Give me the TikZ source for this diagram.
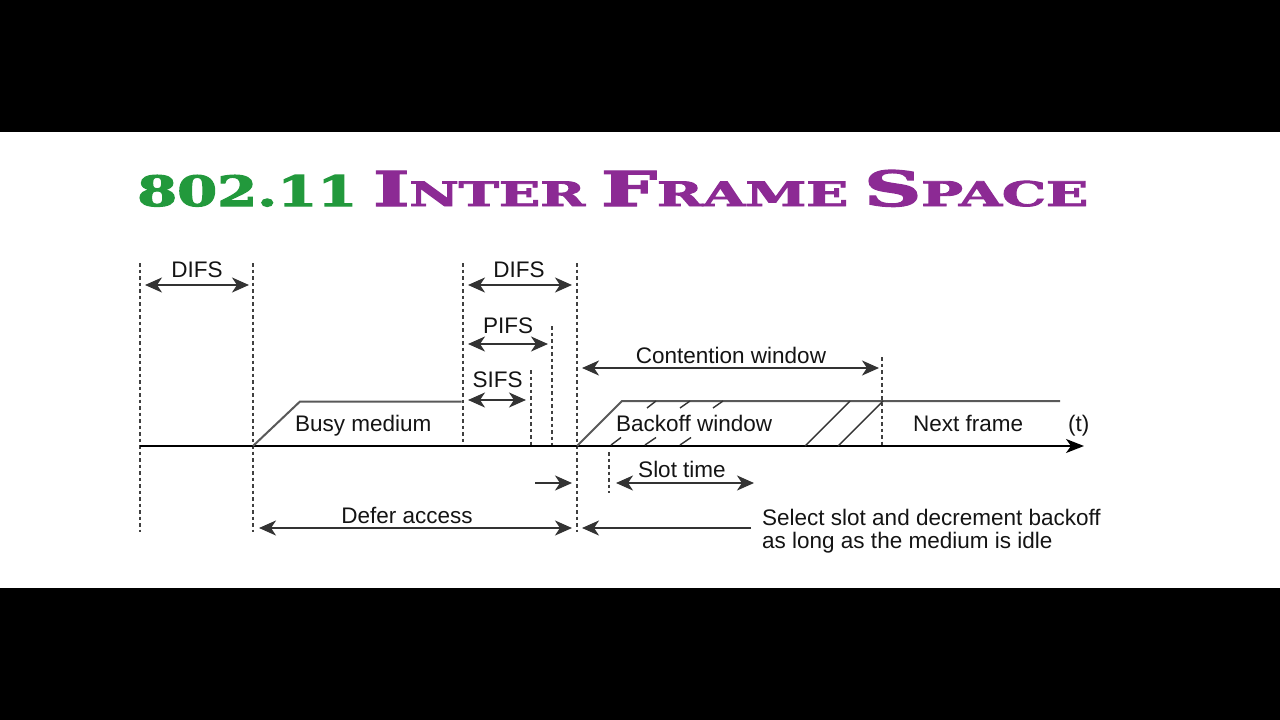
\documentclass[tikz,border=0pt]{standalone}
\usepackage{fontspec}
\setmainfont{Liberation Sans}
\newfontfamily\titlefont[BoldFeatures={FakeBold=2.5}]{DejaVu Serif}
\usetikzlibrary{arrows.meta}
\definecolor{tgreen}{HTML}{22993C}
\definecolor{tpurple}{HTML}{8C2A94}
\definecolor{linegray}{HTML}{333333}
\begin{document}
\begin{tikzpicture}[x=1pt,y=-1pt,
  tip/.tip={Stealth[length=17pt,width=15pt,inset=5pt]},
  lbl/.style={font=\fontsize{22.5}{27}\selectfont, text=black!92, inner sep=0pt, anchor=base},
  lblw/.style={lbl, anchor=base west},
  dimarrow/.style={tip-tip, line width=2.2pt, draw=linegray},
  onearrow/.style={-tip, line width=2.2pt, draw=linegray},
  guide/.style={draw=black!75, line width=1.1pt, dash pattern=on 3.5pt off 3pt},
  mediumline/.style={draw=black!65, line width=2pt},
  timeaxis/.style={draw=black, line width=1.6pt, -{Stealth[length=18pt,width=14pt,inset=5pt]}},
  hatch/.style={draw=black!80, line width=1.4pt},
  ttl/.style={anchor=base west, inner sep=0pt}]

\useasboundingbox (0,0) rectangle (1280,720);
\fill[white] (0,0) rectangle (1280,720);
\fill[black] (0,0) rectangle (1280,132);
\fill[black] (0,588) rectangle (1280,720);

% title
\node[ttl, text=tgreen] (t1) at (137,206) {\resizebox{220pt}{31pt}{\titlefont\bfseries 802.11}};
\node[ttl, text=tpurple] (t2) at (373,206) {\resizebox{212pt}{35pt}{\titlefont\bfseries{\fontsize{40}{40}\selectfont I}{\fontsize{28}{28}\selectfont NTER}}};
\node[ttl, text=tpurple] (t3) at (601,206) {\resizebox{247pt}{35pt}{\titlefont\bfseries{\fontsize{40}{40}\selectfont F}{\fontsize{28}{28}\selectfont RAME}}};
\node[ttl, text=tpurple] (t4) at (864,206) {\resizebox{224pt}{36pt}{\titlefont\bfseries{\fontsize{40}{40}\selectfont S}{\fontsize{28}{28}\selectfont PACE}}};

% guide lines
\coordinate (g1t) at (140,263); \coordinate (g1b) at (140,532);
\coordinate (g2t) at (253,263); \coordinate (g2b) at (253,532);
\coordinate (g3t) at (463,263); \coordinate (g3b) at (463,443);
\coordinate (g4t) at (577,263); \coordinate (g4b) at (577,532);
\coordinate (g5t) at (552,326); \coordinate (g5b) at (552,446);
\coordinate (g6t) at (531,370); \coordinate (g6b) at (531,446);
\coordinate (g7t) at (609,452); \coordinate (g7b) at (609,493);
\coordinate (g8t) at (882,357); \coordinate (g8b) at (882,446);
\foreach \g in {g1,g2,g3,g4,g5,g6,g7,g8} \draw[guide] (\g t) -- (\g b);

% time axis
\coordinate (ax0) at (140,446);
\coordinate (ax1) at (1084,446);
\draw[timeaxis] (ax0) -- (ax1);

% busy medium
\coordinate (bm0) at (253,446);
\coordinate (bm1) at (300,401.5);
\coordinate (bm2) at (461.5,401.5);
\draw[mediumline] (bm0) -- (bm1) -- (bm2);

% backoff / next frame
\coordinate (bo0) at (577,446);
\coordinate (bo1) at (622,401);
\coordinate (bo2) at (1060,401);
\draw[mediumline] (bo0) -- (bo1) -- (bo2);

% hatches
\foreach \xa/\ya/\xb/\yb in {611/445/621/437.5, 645/445/656/437.5, 680/445/691/437.5,
                             647/408/656/401, 680/408/690/401, 713/408/723/401,
                             805/446/850/401, 838/446/883/401}
  \draw[hatch] (\xa,\ya) -- (\xb,\yb);

% labels in the frame area
\node[lblw] (busy) at (295,431) {Busy medium};
\node[lblw] (backoff) at (616,431.5) {Backoff window};
\node[lblw] (next) at (913,431.5) {Next frame};
\node[lblw] (tlab) at (1068,431.5) {(t)};

% DIFS left
\coordinate (d1a) at (145,285); \coordinate (d1b) at (249,285);
\draw[dimarrow] (d1a) -- (d1b);
\node[lbl] (difs1) at (197,277) {DIFS};

% DIFS middle
\coordinate (d2a) at (468,285); \coordinate (d2b) at (572,285);
\draw[dimarrow] (d2a) -- (d2b);
\node[lbl] (difs2) at (519,277) {DIFS};

% PIFS
\coordinate (pa) at (468,344); \coordinate (pb) at (548,344);
\draw[dimarrow] (pa) -- (pb);
\node[lbl] (pifs) at (508,333) {PIFS};

% SIFS
\coordinate (sa) at (468,400); \coordinate (sb) at (526,400);
\draw[dimarrow] (sa) -- (sb);
\node[lbl] (sifs) at (497.5,387) {SIFS};

% contention window
\coordinate (ca) at (582,368); \coordinate (cb) at (879,368);
\draw[dimarrow] (ca) -- (cb);
\node[lbl] (cont) at (731,363) {Contention window};

% slot time
\coordinate (sta) at (616,483); \coordinate (stb) at (754,483);
\draw[dimarrow] (sta) -- (stb);
\node[lbl] (slot) at (682,477) {Slot time};

% small arrow
\coordinate (ma) at (535,483); \coordinate (mb) at (572,483);
\draw[onearrow] (ma) -- (mb);

% defer access
\coordinate (da) at (259,528); \coordinate (db) at (572,528);
\draw[dimarrow] (da) -- (db);
\node[lbl] (defer) at (407,523) {Defer access};

% select slot
\coordinate (sla) at (751,528); \coordinate (slb) at (582,528);
\draw[onearrow] (sla) -- (slb);
\node[lblw] (sel1) at (762,525) {Select slot and decrement backoff};
\node[lblw] (sel2) at (762,548) {as long as the medium is idle};
\end{tikzpicture}
\end{document}
